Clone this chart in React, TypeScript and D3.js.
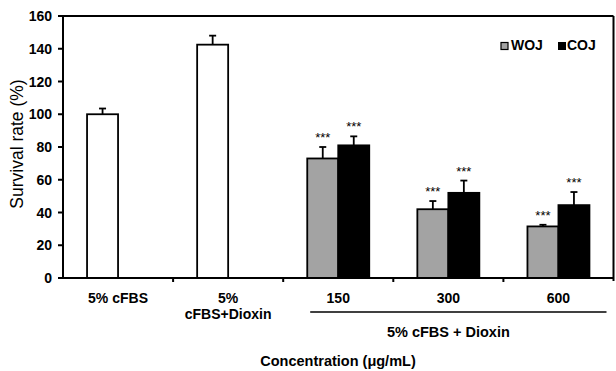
import React from 'react';
import * as d3 from 'd3';

const W = 616;
const H = 371;

const categories = ['5% cFBS', '5%|cFBS+Dioxin', '150', '300', '600'];
const controlCats = ['5% cFBS', '5%|cFBS+Dioxin'];
const controlValues = [100, 142.5];
const controlErrors = [3.5, 5.5];

const doseCats = ['150', '300', '600'];
const series = ['WOJ', 'COJ'];
const wojValues = [73, 42, 31.5];
const wojErrors = [7, 5, 1];
const cojValues = [81, 52, 44.5];
const cojErrors = [5.5, 7.5, 8];

const yTicks = [0, 20, 40, 60, 80, 100, 120, 140, 160];

const GRAY = '#a3a3a3';
const FONT = 'Arial, "Liberation Sans", sans-serif';

const margin = { top: 16, right: 2.5, bottom: 93, left: 63 };

export default function App() {
  const plotW = W - margin.left - margin.right;
  const plotH = H - margin.top - margin.bottom;

  const x = d3.scaleBand<string>().domain(categories).range([0, plotW]).padding(0);
  const slotW = 31;
  const outer = (x.bandwidth() - slotW * 2) / 2 / slotW;
  const xs = d3.scaleBand<string>().domain(series).range([0, x.bandwidth()])
    .paddingInner(0).paddingOuter(outer);
  const y = d3.scaleLinear().domain([0, 160]).range([plotH, 0]);

  const bars: { x: number; v: number; e: number; fill: string; star: boolean }[] = [];
  controlCats.forEach((c, i) => {
    bars.push({ x: (x(c) ?? 0) + (xs('WOJ') ?? 0), v: controlValues[i], e: controlErrors[i], fill: '#ffffff', star: false });
  });
  doseCats.forEach((c, i) => {
    bars.push({ x: (x(c) ?? 0) + (xs('WOJ') ?? 0), v: wojValues[i], e: wojErrors[i], fill: GRAY, star: true });
    bars.push({ x: (x(c) ?? 0) + (xs('COJ') ?? 0), v: cojValues[i], e: cojErrors[i], fill: '#000000', star: true });
  });
  const bw = xs.bandwidth();

  const groupStart = x('150') ?? 0;
  const groupEnd = (x('600') ?? 0) + x.bandwidth();

  return (
    <svg width={W} height={H} style={{ position: 'fixed', left: 0, top: 0, background: '#fff' }}
      fontFamily={FONT}>
      <g transform={`translate(${margin.left},${margin.top})`}>
        {/* bars */}
        {bars.map((b, i) => {
          const cx = b.x + bw / 2;
          const top = y(b.v);
          const et = y(b.v + b.e);
          return (
            <g key={i}>
              <line x1={cx} x2={cx} y1={top} y2={et} stroke="#000" strokeWidth={1.8} />
              <line x1={cx - 3.5} x2={cx + 3.5} y1={et} y2={et} stroke="#000" strokeWidth={1.8} />
              <rect x={b.x} y={top} width={bw} height={plotH - top} fill={b.fill} stroke="#000" strokeWidth={1.8} />
              {b.star && (
                <text x={cx} y={et - 5} textAnchor="middle" fontSize={13}>***</text>
              )}
            </g>
          );
        })}

        {/* frame */}
        <line x1={0} x2={plotW} y1={0} y2={0} stroke="#000" strokeWidth={2} />
        <line x1={plotW} x2={plotW} y1={0} y2={plotH + 3} stroke="#000" strokeWidth={2} />
        <line x1={0} x2={plotW} y1={plotH} y2={plotH} stroke="#000" strokeWidth={2} />
        <line x1={0} x2={0} y1={0} y2={plotH} stroke="#000" strokeWidth={2} />

        {/* y ticks */}
        {yTicks.map(t => (
          <g key={t} transform={`translate(0,${y(t)})`}>
            <line x1={-5} x2={0} stroke="#000" strokeWidth={2} />
            <text x={-11} dy="0.36em" textAnchor="end" fontSize={14} fontWeight="bold">{t}</text>
          </g>
        ))}

        {/* x category boundary ticks */}
        {categories.slice(1).map(c => (
          <line key={c} x1={x(c) ?? 0} x2={x(c) ?? 0} y1={plotH} y2={plotH + 4} stroke="#000" strokeWidth={2} />
        ))}

        {/* category labels */}
        {categories.map(c => {
          const cx = (x(c) ?? 0) + x.bandwidth() / 2;
          const lines = c.split('|');
          return (
            <text key={c} x={cx} y={plotH + 25} textAnchor="middle" fontSize={14} fontWeight="bold">
              {lines.map((l, i) => (
                <tspan key={i} x={cx} dy={i === 0 ? 0 : 16}>{l}</tspan>
              ))}
            </text>
          );
        })}

        {/* group line + label */}
        <line x1={groupStart + 27} x2={groupEnd - 7} y1={plotH + 34} y2={plotH + 34} stroke="#000" strokeWidth={1.6} />
        <text x={(groupStart + groupEnd) / 2} y={plotH + 59} textAnchor="middle" fontSize={14.5} fontWeight="bold">
          5% cFBS + Dioxin
        </text>

        {/* legend */}
        <g transform={`translate(${500 - margin.left},${50 - margin.top})`}>
          <rect x={1} y={-7.5} width={7} height={7} fill={GRAY} stroke="#000" strokeWidth={1.2} />
          <text x={11} y={0} fontSize={14} fontWeight="bold">WOJ</text>
          <rect x={58} y={-8} width={8} height={8} fill="#000" />
          <text x={67} y={0} fontSize={14} fontWeight="bold">COJ</text>
        </g>
      </g>

      {/* axis titles */}
      <text transform={`translate(23,${margin.top + plotH / 2 - 3}) rotate(-90)`} textAnchor="middle" fontSize={17.5}>
        Survival rate (%)
      </text>
      <text x={338} y={366} textAnchor="middle" fontSize={14.5} fontWeight="bold">
        Concentration (μg/mL)
      </text>
    </svg>
  );
}
